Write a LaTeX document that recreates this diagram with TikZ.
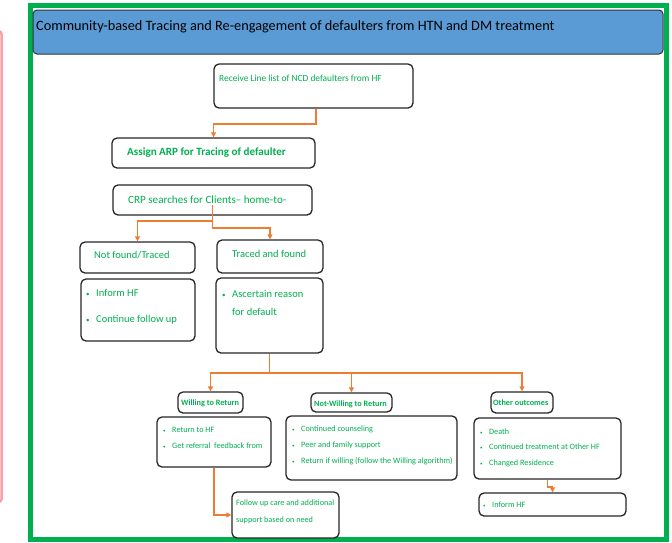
\documentclass[tikz,border=0pt]{standalone}
\usepackage{fontspec}
\setmainfont{Carlito}
\usetikzlibrary{arrows.meta,fit}
\definecolor{frameg}{HTML}{00B050}
\definecolor{txtg}{HTML}{00B050}
\definecolor{hdrblue}{HTML}{5B9BD5}
\definecolor{arrowo}{HTML}{ED7D31}
\definecolor{pinkc}{HTML}{FF9FA5}
\newcommand\bulA{\makebox[10pt][l]{\scriptsize\textbullet}}
\newcommand\bulB{\makebox[9pt][l]{\tiny\textbullet}}
\begin{document}
\begin{tikzpicture}[x=1pt,y=-1pt,
 box/.style={draw=black!85, line width=1.3pt, rounded corners=5pt, fill=white, inner sep=0pt},
 big/.style={text=txtg, inner sep=0pt, anchor=west, align=left, font=\fontsize{10.5}{12}\selectfont},
 small/.style={text=txtg, inner sep=0pt, anchor=west, align=left, font=\fontsize{8.2}{9}\selectfont},
 head/.style={text=txtg, inner sep=0pt, anchor=west, font=\bfseries\fontsize{8.2}{9}\selectfont},
 conn/.style={draw=arrowo, line width=1.7pt, -{Triangle[length=5pt,width=5pt]}},
]
\useasboundingbox (0,0) rectangle (672,542);
% partial pink element at left edge
\draw[pinkc, line width=2.5pt, rounded corners=3pt] (-10,31) -- (1.5,31) -- (1.5,502) -- (-10,502);
% green frame
\draw[frameg, line width=5pt] (30.5,5.5) rectangle (666.5,539.5);
% header
\node[draw=black!80, fill=hdrblue, rounded corners=4pt, line width=1pt, inner sep=0pt, fit={(33,10) (663,54)}] (hdr) {};
\node[anchor=west, inner sep=0pt, font=\fontsize{14.3}{16}\selectfont] (title) at (36,27) {Community-based Tracing and Re-engagement of defaulters from HTN and DM treatment};

% boxes
\node[box, fit={(214,64) (413,108)}] (recv) {};
\node[box, fit={(112,138) (315,168)}] (assign) {};
\node[box, fit={(113,185) (312,215)}] (crp) {};
\node[box, fit={(80,242) (195,273)}] (notfound) {};
\node[box, fit={(81,279) (195,341)}] (inform1) {};
\node[box, fit={(217,240) (323,273)}] (traced) {};
\node[box, fit={(216,278) (323,353)}] (asc) {};
\node[box, fit={(178,392) (243,413)}] (will) {};
\node[box, fit={(157,417) (271,467)}] (ret) {};
\node[box, fit={(311,393) (392,412)}] (notwill) {};
\node[box, fit={(286,416) (457,480)}] (couns) {};
\node[box, fit={(232,492) (339,538)}] (follow) {};
\node[box, fit={(491,392) (553,413)}] (other) {};
\node[box, fit={(474,418) (621,479)}] (death) {};
\node[box, fit={(479,493) (626,516)}] (inform2) {};

% texts
\node[big, font=\fontsize{9.4}{12}\selectfont] (trecv) at (219,78) {Receive Line list of NCD defaulters from HF};
\node[big, font=\bfseries\fontsize{11.1}{13}\selectfont] (tassign) at (127,153) {Assign ARP for Tracing of defaulter};
\node[big, font=\fontsize{11.1}{13}\selectfont] (tcrp) at (128,200) {CRP searches for Clients– home-to-};
\node[big] (tnot) at (94,255) {Not found/Traced};
\node[big, font=\fontsize{10.5}{26}\selectfont] (tinf1) at (86,307) {\bulA Inform HF\\\bulA Continue follow up};
\node[big] (ttraced) at (232,254) {Traced and found};
\node[big, font=\fontsize{10.5}{18}\selectfont] (tasc) at (222,303) {\bulA Ascertain reason\\\hspace{10pt}for default};
\node[head] (twill) at (181,403) {Willing to Return};
\node[head] (tnotwill) at (314,404) {Not-Willing to Return};
\node[head] (tother) at (493,403) {Other outcomes};
\node[small, font=\fontsize{8.2}{16}\selectfont] (tret) at (163,438) {\bulB Return to HF\\\bulB Get referral\ \ feedback from};
\node[small, font=\fontsize{8.2}{16}\selectfont] (tcouns) at (292,445) {\bulB Continued counseling\\\bulB Peer and family support\\\bulB Return if willing (follow the Willing algorithm)};
\node[small, font=\fontsize{8.2}{17}\selectfont] (tfollow) at (236,511.5) {Follow up care and additional\\support based on need};
\node[small, font=\fontsize{8.2}{15.5}\selectfont] (tdeath) at (480,447.5) {\bulB Death\\\bulB Continued treatment at Other HF\\\bulB Changed Residence};
\node[small] (tinf2) at (483,505) {\bulB Inform HF};

% connectors
\draw[conn] (recv.south -| assign.east) -- ++(0,15) -| (assign.north);
\coordinate (cs) at ([yshift=-5pt]crp.center);
\draw[conn] (cs) |- ([yshift=-12pt]crp.south) -| (traced.north);
\draw[conn] (cs) |- ([yshift=-5pt]crp.south) -| (notfound.north);
\coordinate (hb) at ([yshift=-19pt]asc.south);
\draw[conn] (asc.south) -- (hb) -| (will.north);
\draw[conn] (hb) -| (notwill.north);
\draw[conn] (hb) -| (other.north);
\draw[conn] (ret.south) |- (follow.west);
\draw[conn] (death.south) -- ++(0,7) -| (inform2.north);
\end{tikzpicture}
\end{document}
